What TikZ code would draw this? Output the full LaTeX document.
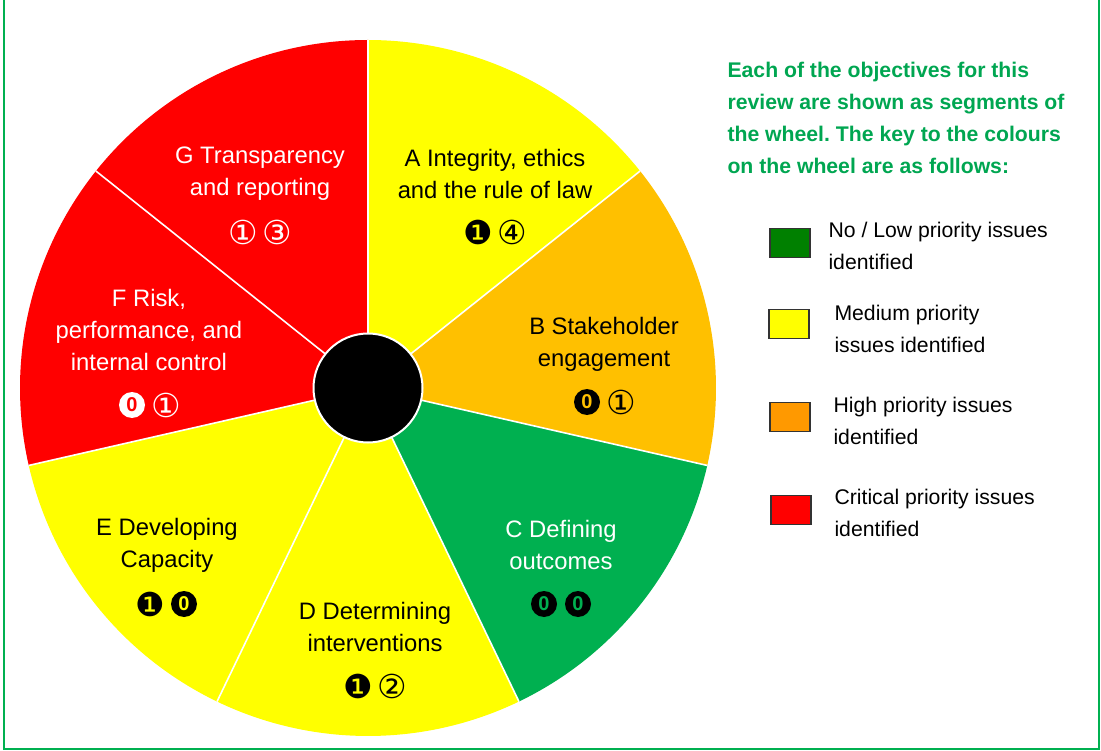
\documentclass[tikz,border=0pt]{standalone}
\usepackage{fontspec}
\setmainfont{Liberation Sans}
\newfontfamily\symfont{DejaVu Sans}
\usetikzlibrary{positioning}
\frenchspacing

\definecolor{wheelyellow}{HTML}{FFFF00}
\definecolor{wheelorange}{HTML}{FFC000}
\definecolor{wheelgreen}{HTML}{00B050}
\definecolor{wheelred}{HTML}{FF0000}
\definecolor{keygreen}{HTML}{008000}
\definecolor{keyorange}{HTML}{FF9900}
\definecolor{headgreen}{HTML}{00A651}

\begin{document}
\begin{tikzpicture}[x=1pt, y=-1pt,
					seglabel/.style={align=center, font=\fontsize{23.8}{32}\selectfont},
					score/.style={inner sep=0pt, font=\symfont\fontsize{33}{33}\selectfont},
					zero/.style={circle, inner sep=0pt, minimum size=26pt, fill=#1, font=\bfseries\fontsize{20}{20}\selectfont},
					keybox/.style={draw=black!80, line width=1.2pt, minimum width=40pt, minimum height=29pt, inner sep=0pt},
					keytext/.style={anchor=west, align=left, font=\fontsize{21.2}{32}\selectfont}]
\useasboundingbox (0,0) rectangle (1101,751);
\draw[wheelgreen, line width=1.5pt] (4,0) -- (4,749) -- (1099,749) -- (1099,0);

% the wheel
\begin{scope}[shift={(368,388)}, y=1pt]
\fill[wheelyellow] (0,0) -- (90:348) arc[start angle=90, end angle=38.57, radius=348] -- cycle;
\fill[wheelorange] (0,0) -- (38.57:348) arc[start angle=38.57, end angle=-12.86, radius=348] -- cycle;
\fill[wheelgreen] (0,0) -- (-12.86:348) arc[start angle=-12.86, end angle=-64.29, radius=348] -- cycle;
\fill[wheelyellow] (0,0) -- (-64.29:348) arc[start angle=-64.29, end angle=-167.14, radius=348] -- cycle;
\fill[wheelred] (0,0) -- (-167.14:348) arc[start angle=-167.14, end angle=-270, radius=348] -- cycle;
\foreach \a in {90, 38.57, -12.86, -64.29, -115.71, -167.14, -218.57}
	\draw[white, line width=1.6pt] (0,0) -- (\a:348);
\node[circle, fill=black, draw=white, line width=2pt, minimum size=109pt] (hub) at (0,0) {};
\end{scope}

% segment labels and their scores
\node[seglabel] (a) at (495,174) {A Integrity, ethics\\and the rule of law};
\node[score] (a1) at (478,232) {❶};
\node[score] (a2) at (512,232) {④};
\node[seglabel] (b) at (604,344) {B Stakeholder\\engagement};
\node[zero=black, text=wheelorange] (b1) at (587,402) {0};
\node[score] (b2) at (621,402) {①};
\node[seglabel, text=white] (c) at (561,545) {C Defining\\outcomes};
\node[zero=black, text=wheelgreen] (c1) at (544,604) {0};
\node[zero=black, text=wheelgreen] (c2) at (578,604) {0};
\node[seglabel] (d) at (375,627) {D Determining\\interventions};
\node[score] (d1) at (358,686) {❶};
\node[score] (d2) at (392,686) {②};
\node[seglabel] (e) at (167,545) {E Developing\\Capacity};
\node[score] (e1) at (150,604) {❶};
\node[zero=black, text=wheelyellow] (e2) at (184,604) {0};
\node[seglabel, text=white] (f) at (149,330) {F Risk,\\performance, and\\internal control};
\node[zero=white, text=wheelred] (f1) at (132,405) {0};
\node[score, text=white] (f2) at (166,405) {①};
\node[seglabel, text=white] (g) at (260,174) {G Transparency\\and reporting};
\node[score, text=white] (g1) at (243,232) {①};
\node[score, text=white] (g2) at (277,232) {③};

% key
\node[anchor=west, align=left, text=headgreen, font=\bfseries\fontsize{21.2}{32}\selectfont] (head) at (724,118)
	{Each of the objectives for this\\review are shown as segments of\\the wheel. The key to the colours\\on the wheel are as follows:};
\node[keybox, fill=keygreen] (k1) at (790,243) {};
\node[keytext] (t1) at (825,246) {No / Low priority issues\\identified};
\node[keybox, fill=wheelyellow] (k2) at (789,324) {};
\node[keytext] (t2) at (831,329) {Medium priority\\issues identified};
\node[keybox, fill=keyorange] (k3) at (790,417) {};
\node[keytext] (t3) at (830,421) {High priority issues\\identified};
\node[keybox, fill=wheelred] (k4) at (791,510) {};
\node[keytext] (t4) at (831,513) {Critical priority issues\\identified};
\end{tikzpicture}
\end{document}
